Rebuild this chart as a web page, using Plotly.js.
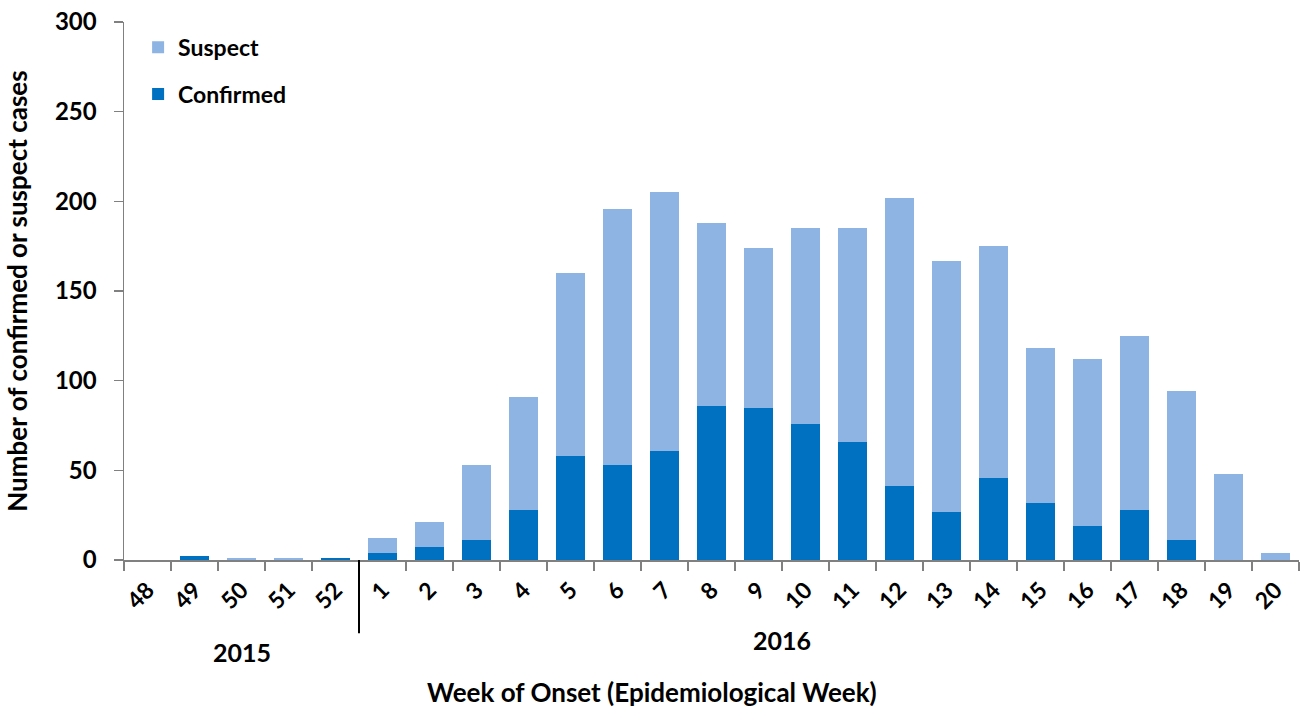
<!DOCTYPE html>
<html>
<head>
<meta charset="utf-8">
<script src="https://cdn.plot.ly/plotly-3.0.1.min.js"></script>
<style>html,body{margin:0;padding:0;background:#fff;}#chart{width:1310px;height:726px;}</style>
</head>
<body>
<div id="chart"></div>
<script>
const weeks = ["48","49","50","51","52","1","2","3","4","5","6","7","8","9","10","11","12","13","14","15","16","17","18","19","20"];
const confirmed = [0,2,0,0,1,4,7,11,28,58,53,61,86,85,76,66,41,27,46,32,19,28,11,0,0];
const suspect = [0,0,1,1,0,8,14,42,63,102,143,144,102,89,109,119,161,140,129,86,93,97,83,48,4];
const yearLabels = ["2015","2016"];

const FONT = "Lato, 'Open Sans', sans-serif";

const traces = [
  {type:'bar', name:'Confirmed', x:weeks, y:confirmed, marker:{color:'#0070C0'}, legendgroup:'c', legendrank:2},
  {type:'bar', name:'Suspect', x:weeks, y:suspect, marker:{color:'#8EB4E3'}, legendgroup:'s', legendrank:1}
];

const layout = {
  width:1310, height:726,
  margin:{l:124, r:11, t:22, b:166},
  paper_bgcolor:'#fff', plot_bgcolor:'#fff',
  barmode:'stack', bargap:0.38,
  font:{family:FONT, color:'#000', size:20, weight:'bold'},
  showlegend:true,
  legend:{x:0.012, y:0.993, xanchor:'left', yanchor:'top', traceorder:'grouped', tracegroupgap:14, itemwidth:30,
          font:{family:FONT, size:23, weight:'bold'}, bgcolor:'rgba(0,0,0,0)'},
  xaxis:{type:'category', tickson:'boundaries', ticks:'outside', ticklen:9, tickwidth:1.5, tickcolor:'#808080',
         showline:true, linecolor:'#808080', linewidth:1.5, showgrid:false, tickangle:-45,
         ticklabelstandoff:6,
         tickfont:{family:FONT, size:23, weight:'bold'}, fixedrange:true},
  yaxis:{range:[0,300], dtick:50, ticks:'outside', ticklen:9, tickwidth:1.5, tickcolor:'#808080',
         showline:true, linecolor:'#808080', linewidth:1.5, showgrid:false, zeroline:false,
         ticklabelstandoff:12,
         tickfont:{family:FONT, size:24, weight:'bold'},
         title:{text:'Number of confirmed or suspect cases', font:{family:FONT, size:26, weight:'bold'}, standoff:20}},
  shapes:[
    {type:'line', xref:'x', yref:'paper', x0:4.5, x1:4.5, y0:0, y1:-0.136, line:{color:'#000', width:2}}
  ],
  annotations:[
    {xref:'x', yref:'paper', x:2, y:-0.171, yanchor:'middle', text:yearLabels[0], showarrow:false, font:{family:FONT, size:25, weight:'bold'}},
    {xref:'x', yref:'paper', x:13.5, y:-0.149, yanchor:'middle', text:yearLabels[1], showarrow:false, font:{family:FONT, size:25, weight:'bold'}},
    {xref:'paper', yref:'paper', x:0.449, y:-0.245, yanchor:'middle', text:'Week of Onset (Epidemiological Week)', showarrow:false, font:{family:FONT, size:26, weight:'bold'}}
  ]
};

Plotly.newPlot('chart', traces, layout, {displayModeBar:false, staticPlot:true});
</script>
</body>
</html>
